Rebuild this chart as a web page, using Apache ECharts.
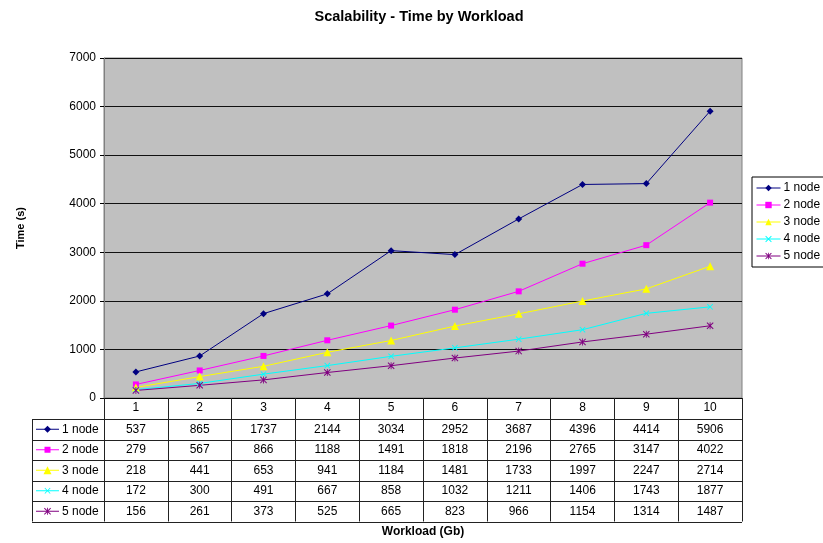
<!DOCTYPE html>
<html>
<head>
<meta charset="utf-8">
<script src="https://cdn.jsdelivr.net/npm/echarts@6/dist/echarts.min.js"></script>
<style>
  html, body { margin: 0; padding: 0; background: #fff; }
  #chart { width: 823px; height: 543px; }
</style>
</head>
<body>
<div id="chart"></div>
<script>
// Workload sizes (Gb) and measured run times (s) per cluster size
const workloads = ['1', '2', '3', '4', '5', '6', '7', '8', '9', '10'];
const node1 = [537, 865, 1737, 2144, 3034, 2952, 3687, 4396, 4414, 5906];
const node2 = [279, 567, 866, 1188, 1491, 1818, 2196, 2765, 3147, 4022];
const node3 = [218, 441, 653, 941, 1184, 1481, 1733, 1997, 2247, 2714];
const node4 = [172, 300, 491, 667, 858, 1032, 1211, 1406, 1743, 1877];
const node5 = [156, 261, 373, 525, 665, 823, 966, 1154, 1314, 1487];
const seriesNames = ['1 node', '2 node', '3 node', '4 node', '5 node'];
const yTicks = [0, 1000, 2000, 3000, 4000, 5000, 6000, 7000];

const FONT = '"Liberation Sans", Arial, sans-serif';

// Marker outlines as polygons in a 10x10 box, shared by the plot and the table keys
const X_POLY = [[0,1],[1,0],[5,4],[9,0],[10,1],[6,5],[10,9],[9,10],[5,6],[1,10],[0,9],[4,5]];
const shapes = {
  diamond: [[[5,0],[10,5],[5,10],[0,5]]],
  square: [[[0,0],[10,0],[10,10],[0,10]]],
  triangle: [[[5,0],[10,10],[0,10]]],
  cross: [X_POLY],
  star: [X_POLY, [[4.4,0],[5.6,0],[5.6,10],[4.4,10]]]
};
function toPath(polys) {
  return 'path://' + polys.map(p => 'M' + p.map(q => q[0] + ',' + q[1]).join('L') + 'Z').join(' ');
}

const styles = [
  { name: seriesNames[0], data: node1, color: '#000080', shape: 'diamond', size: 7 },
  { name: seriesNames[1], data: node2, color: '#FF00FF', shape: 'square', size: 6 },
  { name: seriesNames[2], data: node3, color: '#FFFF00', shape: 'triangle', size: 8 },
  { name: seriesNames[3], data: node4, color: '#00FFFF', shape: 'cross', size: 6 },
  { name: seriesNames[4], data: node5, color: '#800080', shape: 'star', size: 7 }
];

const chart = echarts.init(document.getElementById('chart'), null, { renderer: 'canvas' });

const gridLeft = 104, gridRight = 81, gridTop = 58, gridBottom = 144;
const rowH = 20.5;
const headerH = 21;
const tableLeft = 32;

chart.setOption({
  animation: false,
  backgroundColor: '#ffffff',
  title: {
    text: 'Scalability - Time by Workload',
    left: 414, top: 4, textAlign: 'center',
    textStyle: { fontFamily: FONT, fontSize: 14.5, fontWeight: 'bold', color: '#000' }
  },
  legend: {
    orient: 'vertical',
    left: 752, top: 177,
    padding: [5, 4, 5, 4],
    itemWidth: 24, itemHeight: 8, itemGap: 5,
    borderColor: '#000', borderWidth: 1,
    lineStyle: { width: 1 },
    textStyle: { fontFamily: FONT, fontSize: 12, color: '#000', padding: [0, 0, 0, -2] },
    data: seriesNames
  },
  grid: {
    left: gridLeft, right: gridRight, top: gridTop, bottom: gridBottom,
    show: true, backgroundColor: '#C0C0C0', borderColor: '#808080', borderWidth: 1
  },
  xAxis: {
    type: 'category',
    data: workloads,
    boundaryGap: true,
    name: 'Workload (Gb)',
    nameLocation: 'middle',
    nameGap: 128,
    nameTextStyle: { fontFamily: FONT, fontSize: 12, fontWeight: 'bold', color: '#000' },
    axisLine: { show: true, lineStyle: { color: '#000', width: 1 } },
    axisTick: { show: true, interval: 0, length: headerH + rowH * 5, lineStyle: { color: '#222', width: 1 } },
    axisLabel: { interval: 0, margin: 4, fontFamily: FONT, fontSize: 12, color: '#000' },
    splitLine: { show: false }
  },
  yAxis: {
    type: 'value',
    min: yTicks[0], max: yTicks[yTicks.length - 1], interval: 1000,
    name: 'Time (s)',
    nameLocation: 'middle',
    nameGap: 78,
    nameTextStyle: { fontFamily: FONT, fontSize: 11, fontWeight: 'bold', color: '#000' },
    axisLine: { show: true, lineStyle: { color: '#808080', width: 1 } },
    axisTick: { show: true, length: 4, lineStyle: { color: '#000' } },
    axisLabel: { margin: 8, fontFamily: FONT, fontSize: 12, color: '#000', formatter: v => String(v) },
    splitLine: { show: true, lineStyle: { color: '#111', width: 1 } }
  },
  series: styles.map(s => ({
    name: s.name,
    type: 'line',
    data: s.data,
    symbol: toPath(shapes[s.shape]),
    symbolSize: s.size,
    showAllSymbol: true,
    lineStyle: { color: s.color, width: 1 },
    itemStyle: { color: s.color, borderWidth: 0 },
    emphasis: { disabled: true }
  }))
});

// Data table under the plot: row lines, series keys and values
function buildTable() {
  const axisY = chart.convertToPixel({ yAxisIndex: 0 }, 0);
  const colW = chart.convertToPixel({ xAxisIndex: 0 }, 1) - chart.convertToPixel({ xAxisIndex: 0 }, 0);
  const plotLeft = chart.convertToPixel({ xAxisIndex: 0 }, 0) - colW / 2;
  const plotRight = plotLeft + colW * workloads.length;
  const firstRow = axisY + headerH;
  const els = [];
  const line = (x1, y1, x2, y2) => els.push({
    type: 'line', silent: true,
    shape: { x1: x1, y1: y1, x2: x2, y2: y2 },
    style: { stroke: '#222', lineWidth: 1 }
  });

  for (let r = 0; r <= styles.length; r++) {
    const y = Math.round(firstRow + r * rowH) + 0.5;
    line(tableLeft, y, plotRight, y);
  }
  line(tableLeft + 0.5, firstRow, tableLeft + 0.5, firstRow + rowH * styles.length);

  styles.forEach((s, r) => {
    const cy = firstRow + r * rowH + rowH / 2;
    els.push({
      type: 'line', silent: true,
      shape: { x1: tableLeft + 4, y1: cy, x2: tableLeft + 27, y2: cy },
      style: { stroke: s.color, lineWidth: 1 }
    });
    const ox = tableLeft + 15.5 - s.size / 2, oy = cy - s.size / 2, k = s.size / 10;
    shapes[s.shape].forEach(poly => {
      els.push({
        type: 'polygon', silent: true,
        shape: { points: poly.map(p => [ox + p[0] * k, oy + p[1] * k]) },
        style: { fill: s.color }
      });
    });
    els.push({
      type: 'text', silent: true,
      x: tableLeft + 30, y: cy,
      style: { text: s.name, font: '12px ' + FONT, fill: '#000', verticalAlign: 'middle' }
    });
    s.data.forEach((v, i) => {
      const cx = chart.convertToPixel({ xAxisIndex: 0 }, i);
      els.push({
        type: 'text', silent: true,
        x: cx, y: cy,
        style: { text: String(v), font: '12px ' + FONT, fill: '#000', align: 'center', verticalAlign: 'middle' }
      });
    });
  });

  chart.setOption({ graphic: { elements: els } });
}

buildTable();
</script>
</body>
</html>
